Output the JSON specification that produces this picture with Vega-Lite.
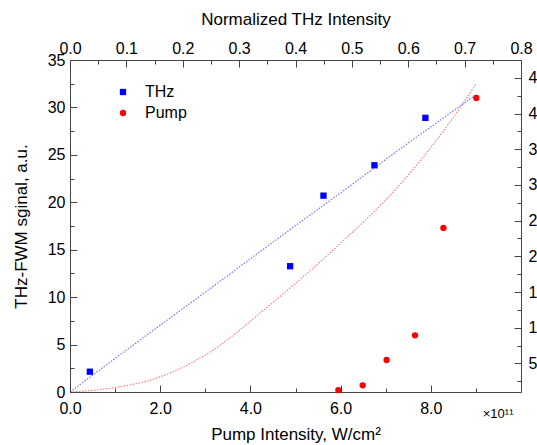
{
  "$schema": "https://vega.github.io/schema/vega-lite/v6.json",
  "width": 451,
  "height": 332,
  "autosize": {"type": "none"},
  "padding": {"left": 70, "top": 60, "right": 16, "bottom": 53},
  "background": "white",
  "config": {
    "view": {"stroke": null},
    "font": "Liberation Sans",
    "axis": {
      "domainColor": "#444", "tickColor": "#444", "labelColor": "black", "titleColor": "black",
      "labelFontSize": 16, "titleFontSize": 17, "titleFontWeight": "normal", "grid": false,
      "labelFont": "Liberation Sans", "titleFont": "Liberation Sans", "labelFlush": false, "labelOverlap": false
    }
  },
  "datasets": {
    "thzfit": [
      {"x": 0, "y": 0}, {"x": 1.5, "y": 5.3}, {"x": 2.88, "y": 10.1}, {"x": 4.5, "y": 15.8},
      {"x": 6, "y": 21.0}, {"x": 7.17, "y": 25.1}, {"x": 9.02, "y": 31.4}
    ],
    "pumpfit": [
      {"x": 0, "y": 0}, {"x": 0.9, "y": 0.4}, {"x": 2, "y": 1.6}, {"x": 3.1, "y": 4.2},
      {"x": 4.36, "y": 8.9}, {"x": 5.84, "y": 15.0}, {"x": 7.32, "y": 21.9}, {"x": 8.2, "y": 27.0},
      {"x": 9.01, "y": 32.5}
    ],
    "points": [
      {"series": "THz", "x": 0.44, "y": 2.14},
      {"series": "THz", "x": 4.88, "y": 13.26},
      {"series": "THz", "x": 5.62, "y": 20.7},
      {"series": "THz", "x": 6.75, "y": 23.9},
      {"series": "THz", "x": 7.88, "y": 28.9},
      {"series": "Pump", "x": 5.95, "y": 0.2},
      {"series": "Pump", "x": 6.49, "y": 0.7},
      {"series": "Pump", "x": 7.02, "y": 3.37},
      {"series": "Pump", "x": 7.65, "y": 5.97},
      {"series": "Pump", "x": 8.28, "y": 17.3},
      {"series": "Pump", "x": 9.01, "y": 31.0}
    ]
  },
  "resolve": {"scale": {"y": "independent"}, "axis": {"x": "independent", "y": "independent"}},
  "layer": [
    {
      "data": {"name": "thzfit"},
      "mark": {"type": "line", "stroke": "#0000ff", "opacity": 0.55, "strokeWidth": 1.2, "strokeDash": [1.5, 1.5], "interpolate": "monotone"},
      "encoding": {
        "x": {"field": "x", "type": "quantitative", "scale": {"domain": [0, 10], "nice": false, "zero": false},
          "axis": {"orient": "bottom", "values": [0, 2, 4, 6, 8], "format": ".1f", "tickSize": -7, "labelPadding": 15,
            "title": "Pump Intensity, W/cm²", "titlePadding": 10}},
        "y": {"field": "y", "type": "quantitative", "scale": {"domain": [0, 35], "nice": false, "zero": false},
          "axis": {"orient": "left", "values": [0, 5, 10, 15, 20, 25, 30, 35], "tickSize": -7, "labelPadding": 12,
            "title": "THz-FWM sginal, a.u.", "titlePadding": 17}}
      }
    },
    {
      "data": {"name": "pumpfit"},
      "mark": {"type": "line", "stroke": "#ff0000", "opacity": 0.5, "strokeWidth": 1.2, "strokeDash": [1.5, 1.5], "interpolate": "monotone"},
      "encoding": {
        "x": {"field": "x", "type": "quantitative", "scale": {"domain": [0, 10], "nice": false, "zero": false},
          "axis": {"orient": "bottom", "values": [1, 3, 5, 7, 9], "tickSize": -4, "labels": false, "domain": false, "title": null}},
        "y": {"field": "y", "type": "quantitative", "scale": {"domain": [0, 35], "nice": false, "zero": false},
          "axis": {"orient": "left", "values": [2.5, 7.5, 12.5, 17.5, 22.5, 27.5, 32.5], "tickSize": -4, "labels": false, "domain": false, "title": null}}
      }
    },
    {
      "data": {"name": "points"},
      "mark": {"type": "point", "filled": true, "opacity": 1, "strokeWidth": 0},
      "encoding": {
        "x": {"field": "x", "type": "quantitative", "scale": {"domain": [0, 10], "nice": false, "zero": false},
          "axis": {"orient": "top", "values": [0, 1.25, 2.5, 3.75, 5, 6.25, 7.5, 8.75, 10], "labelExpr": "format(datum.value * 0.08, '.1f')",
            "tickSize": -7, "labelPadding": 11, "title": "Normalized THz Intensity", "titlePadding": 12}},
        "y": {"field": "y", "type": "quantitative", "scale": {"domain": [0, 35], "nice": false, "zero": false}, "axis": null},
        "color": {"field": "series", "type": "nominal", "scale": {"domain": ["THz", "Pump"], "range": ["#0000ff", "#ff0000"]},
          "legend": {"title": null, "orient": "none", "legendX": 45, "legendY": 24, "labelFontSize": 16, "labelOffset": 14,
            "symbolSize": 40, "rowPadding": 5, "labelFont": "Liberation Sans", "labelColor": "black"}},
        "shape": {"field": "series", "type": "nominal", "scale": {"domain": ["THz", "Pump"], "range": ["square", "circle"]}},
        "size": {"value": 40}
      }
    },
    {
      "data": {"name": "points"},
      "mark": {"type": "point", "opacity": 0},
      "encoding": {
        "x": {"field": "x", "type": "quantitative", "scale": {"domain": [0, 10], "nice": false, "zero": false},
          "axis": {"orient": "top", "values": [0.625, 1.875, 3.125, 4.375, 5.625, 6.875, 8.125, 9.375], "tickSize": -4, "labels": false, "domain": false, "title": null}}
      }
    },
    {
      "data": {"name": "points"},
      "mark": {"type": "point", "opacity": 0},
      "encoding": {
        "y": {"field": "y", "type": "quantitative", "scale": {"domain": [1.0, 47.5], "nice": false, "zero": false},
          "axis": {"orient": "right", "values": [5, 10, 15, 20, 25, 30, 35, 40, 45], "tickSize": -7, "labelPadding": 14, "title": null}}
      }
    },
    {
      "data": {"name": "points"},
      "mark": {"type": "point", "opacity": 0},
      "encoding": {
        "y": {"field": "y", "type": "quantitative", "scale": {"domain": [1.0, 47.5], "nice": false, "zero": false},
          "axis": {"orient": "right", "values": [2.5, 7.5, 12.5, 17.5, 22.5, 27.5, 32.5, 37.5, 42.5], "tickSize": -4, "labels": false, "domain": false, "title": null}}
      }
    },
    {
      "data": {"name": "points"},
      "mark": {"type": "point", "opacity": 0},
      "encoding": {
        "x": {"field": "x", "type": "quantitative", "scale": {"domain": [0, 10], "nice": false, "zero": false},
          "axis": {"orient": "bottom", "domain": false, "ticks": false, "labels": false, "title": "×10¹¹",
            "titleFontSize": 13, "titleX": 443, "titleY": 21, "titleAlign": "right", "titleAnchor": "end", "titleBaseline": "middle"}}
      }
    }
  ]
}
